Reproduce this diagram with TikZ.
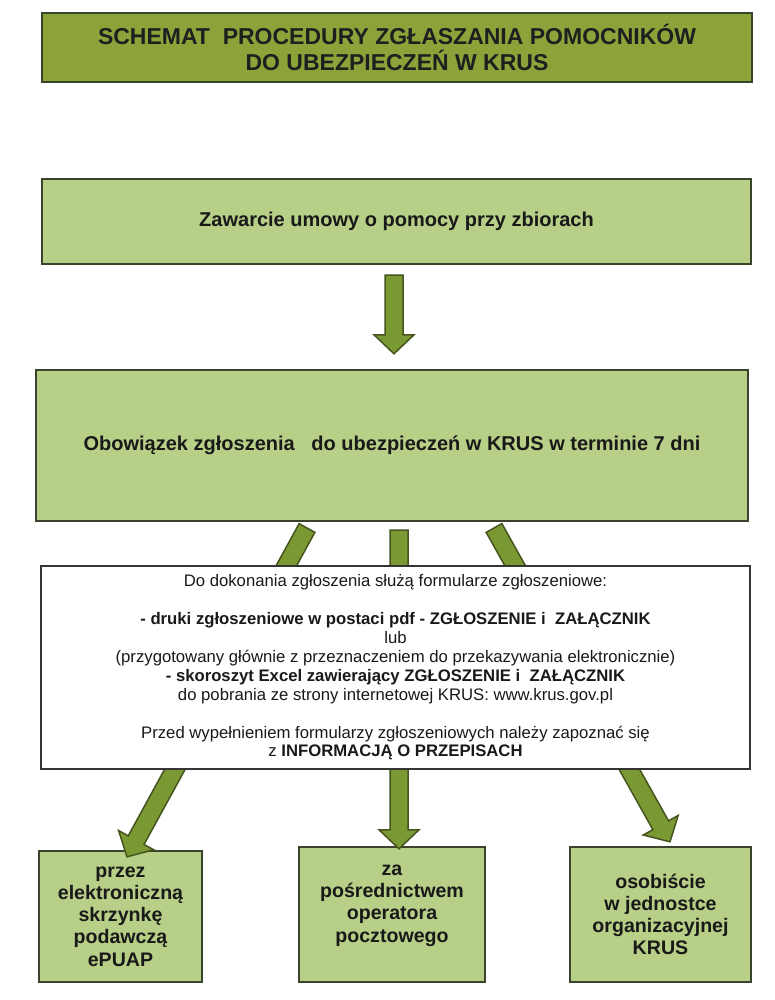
\documentclass[tikz,border=0pt]{standalone}
\usepackage{fontspec}
\setmainfont{Liberation Sans}
\usetikzlibrary{calc}
\definecolor{titlegreen}{HTML}{8CA33A}
\definecolor{boxgreen}{HTML}{B7CF87}
\definecolor{arrowgreen}{HTML}{7B9933}
\definecolor{edgedark}{HTML}{3A432B}
\definecolor{arrowedge}{HTML}{46541F}
\definecolor{whiteedge}{HTML}{353535}
\tikzset{
  titlebox/.style={draw=edgedark, line width=2.6pt, fill=titlegreen, inner sep=0pt, align=center,
    font=\bfseries\fontsize{23}{26}\selectfont, text=black!88},
  greenbox/.style={draw=edgedark, line width=2.4pt, fill=boxgreen, inner sep=0pt, align=center,
    font=\bfseries\fontsize{20}{23}\selectfont, text=black!90},
  infobox/.style={draw=whiteedge, line width=2pt, fill=white, inner sep=0pt, align=center,
    font=\fontsize{16.7}{18.9}\selectfont, text=black!90},
  boxtext/.style={inner sep=0pt, align=center, font=\bfseries\fontsize{19.6}{22.2}\selectfont, text=black!90},
  fatarr/.style={fill=arrowgreen, draw=arrowedge, line width=1.5pt, line join=miter}
}
\newcommand{\fatarrow}[3]{%
  \coordinate (#1b) at ($(#3)!19pt!(#2)$);
  \filldraw[fatarr] ($(#2)!9pt!90:(#3)$) -- ($(#1b)!9pt!-90:(#2)$) -- ($(#1b)!20pt!-90:(#2)$)
    -- (#3) -- ($(#1b)!20pt!90:(#2)$) -- ($(#1b)!9pt!90:(#2)$) -- ($(#2)!9pt!-90:(#3)$) -- cycle;
}
\begin{document}
\begin{tikzpicture}[x=1pt,y=-1pt]
\useasboundingbox (0,0) rectangle (775,1000);
\fill[white] (0,0) rectangle (775,1000);

\node[titlebox, minimum width=710pt, minimum height=69pt] (title) at (397,47.5)
  {SCHEMAT~~PROCEDURY ZGŁASZANIA POMOCNIKÓW\\DO UBEZPIECZEŃ W KRUS};

\node[greenbox, minimum width=709pt, minimum height=85pt] (umowa) at (396.5,221.5)
  {Zawarcie umowy o pomocy przy zbiorach};

\node[greenbox, minimum width=712pt, minimum height=151pt] (obow) at (392,445.5)
  {Obowiązek zgłoszenia~~~do ubezpieczeń w KRUS w terminie 7 dni};

\node[greenbox, minimum width=163pt, minimum height=131pt] (epuap) at (120.5,916.5) {};
\node[boxtext] (epuaptext) at (epuap.center)
  {przez\\elektroniczną\\skrzynkę\\podawczą\\ePUAP};

\node[greenbox, minimum width=186pt, minimum height=135pt] (poczta) at (392,914.5) {};
\node[boxtext] (pocztatext) at ($(poczta.center)+(0,-9)$)
  {za\\pośrednictwem\\operatora\\pocztowego};

\node[greenbox, minimum width=181pt, minimum height=135pt] (osob) at (660.5,914.5) {};
\node[boxtext] (osobtext) at (osob.center)
  {osobiście\\w jednostce\\organizacyjnej\\KRUS};

% connectors
\coordinate (a1s) at ($(umowa.south)+(-2.5,10)$);
\coordinate (a1e) at ($(obow.north)+(2,-15)$);
\fatarrow{a1}{a1s}{a1e}

\coordinate (als) at (307,528);
\coordinate (ale) at ($(epuap.north)+(6.5,7)$);
\fatarrow{al}{als}{ale}

\coordinate (ams) at (399,530);
\coordinate (ame) at ($(poczta.north)+(7,3)$);
\fatarrow{am}{ams}{ame}

\coordinate (ars) at (494,528);
\coordinate (are) at ($(osob.north)+(9.5,-4)$);
\fatarrow{ar}{ars}{are}

\node[infobox, minimum width=709pt, minimum height=203pt] (info) at (395.5,667.5)
  {Do dokonania zgłoszenia służą formularze zgłoszeniowe:\\[18.9pt]
   \textbf{- druki zgłoszeniowe w postaci pdf - ZGŁOSZENIE i~~ZAŁĄCZNIK}\\
   lub\\
   (przygotowany głównie z przeznaczeniem do przekazywania elektronicznie)\\
   \textbf{- skoroszyt Excel zawierający ZGŁOSZENIE i~~ZAŁĄCZNIK}\\
   do pobrania ze strony internetowej KRUS: www.krus.gov.pl\\[18.9pt]
   Przed wypełnieniem formularzy zgłoszeniowych należy zapoznać się\\
   z \textbf{INFORMACJĄ O PRZEPISACH}};
\end{tikzpicture}
\end{document}
